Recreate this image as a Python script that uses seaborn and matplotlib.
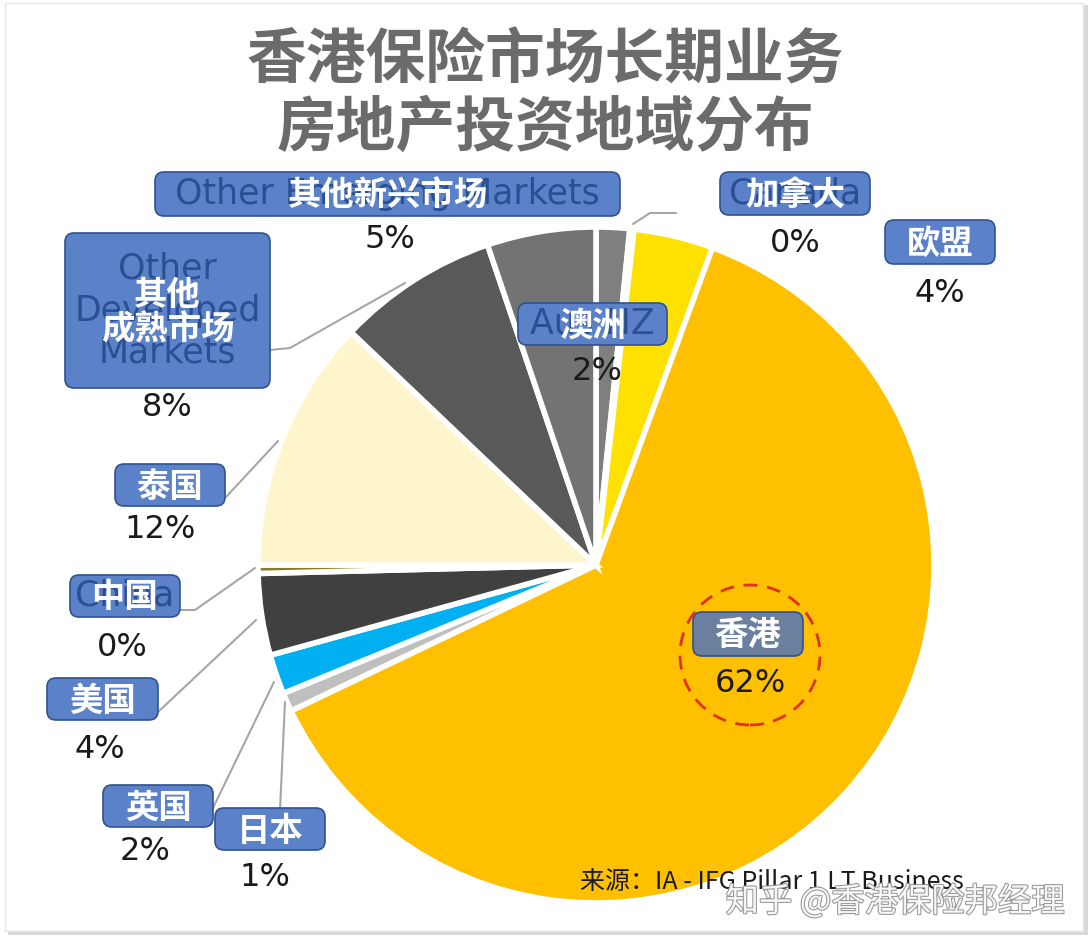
import matplotlib
matplotlib.use("Agg")
import matplotlib.pyplot as plt
import matplotlib.patheffects as pe
from matplotlib.patches import FancyBboxPatch, Circle, Rectangle
import seaborn as sns

# ---------------- data ----------------
regions_cn = ["澳洲", "加拿大", "欧盟", "香港", "日本", "英国", "美国",
              "中国", "泰国", "其他\n成熟市场", "其他新兴市场"]
regions_en = ["Aus NZ", "Canada", "", "", "", "", "",
              "China", "", "Other\nDeveloped\nMarkets", "Other Emerging Markets"]
shares = [1.6, 0.2, 3.8, 62.3, 0.9, 1.9, 3.9, 0.4, 12.1, 7.7, 5.2]
slice_colors = ["#7f7f7f", "#a6a6a6", "#ffe100", "#ffc000", "#bfbfbf", "#00b0f0",
                "#404040", "#8c7a22", "#fff5cc", "#595959", "#737373"]

title_lines = ["香港保险市场长期业务", "房地产投资地域分布"]
source = "来源：IA - IFG Pillar 1 LT Business"
watermark = "知乎 @香港保险邦经理"

# ---------------- layout (pixels, y from top) ----------------
W, H = 1092, 943
# label box (x0, y0, x1, y1), percent text (x, y), leader line points
boxes = [(518, 303, 667, 345), (720, 172, 870, 215), (885, 220, 995, 264),
         (693, 612, 803, 656), (215, 808, 325, 850), (103, 785, 213, 827),
         (47, 678, 158, 720), (70, 575, 180, 617), (115, 464, 225, 506),
         (65, 233, 270, 388), (155, 172, 620, 216)]
pct_pos = [(597, 371), (795, 243), (940, 293), (750, 684), (265, 878),
           (145, 852), (100, 750), (122, 648), (160, 530), (167, 408), (390, 240)]
leaders = [None, [(633, 224), (650, 213), (676, 213)], None, None,
           [(280, 810), (285, 702)], [(213, 808), (274, 682)],
           [(158, 712), (256, 620)], [(180, 610), (195, 610), (255, 568)],
           [(226, 497), (278, 441)], [(270, 350), (290, 348), (405, 283)], None]


def P(x, y):
    return x, H - y


sns.set_theme(style="white")
plt.rcParams["font.family"] = ["Noto Sans CJK SC", "DejaVu Sans"]

fig = plt.figure(figsize=(W / 100, H / 100), dpi=100)
ax = fig.add_axes([0, 0, 1, 1])

# outer frame with soft shadow
ax.add_patch(Rectangle(P(8, 935), 1080, 930, facecolor="#d9d9d9", edgecolor="none", zorder=0))
ax.add_patch(Rectangle(P(5, 931), 1078, 928, facecolor="white", edgecolor="#e6e6e6", lw=1, zorder=0.5))

ax.pie(shares, colors=slice_colors, startangle=90, counterclock=False,
       center=P(596, 565), radius=338,
       wedgeprops=dict(edgecolor="white", linewidth=4), frame=True)

ax.set_xlim(0, W)
ax.set_ylim(0, H)
ax.set_aspect("equal")
ax.axis("off")

# title
ax.text(*P(545, 62), title_lines[0], ha="center", va="center", fontsize=43,
        fontweight="bold", color="#6b6b6b")
ax.text(*P(545, 129), title_lines[1], ha="center", va="center", fontsize=43,
        fontweight="bold", color="#6b6b6b")

for i in range(len(shares)):
    x0, y0, x1, y1 = boxes[i]
    if leaders[i]:
        xs = [p[0] for p in leaders[i]]
        ys = [H - p[1] for p in leaders[i]]
        ax.plot(xs, ys, color="#a6a6a6", lw=1.5, zorder=3)
    face = "#6b7f9f" if regions_cn[i] == "香港" else "#5b82c8"
    ax.add_patch(FancyBboxPatch(P(x0, y1), x1 - x0, y1 - y0,
                                boxstyle="round,pad=0,rounding_size=9",
                                facecolor=face, edgecolor="#2f528f", lw=1.2, zorder=4))
    cx, cy = (x0 + x1) / 2, (y0 + y1) / 2
    if regions_en[i]:
        ax.text(*P(cx, cy), regions_en[i], ha="center", va="center", fontsize=25,
                family="DejaVu Sans", color="#2a4f92", linespacing=1.3, zorder=5)
    ax.text(*P(cx, cy + 2), regions_cn[i], ha="center", va="center", fontsize=24,
            fontweight="bold", color="white", linespacing=1.05, zorder=6)
    ax.text(*P(*pct_pos[i]), f"{shares[i]:.0f}%", ha="center", va="center",
            fontsize=23, family="DejaVu Sans", color="#1a1a1a", zorder=6)

# dashed highlight around Hong Kong
ax.add_patch(Circle(P(750, 655), 70, fill=False, edgecolor="#e0301e", lw=2,
                    linestyle=(0, (5, 3.5)), zorder=5))

ax.text(*P(580, 882), source, ha="left", va="center", fontsize=18, color="#1a1a1a", zorder=6)
ax.text(*P(1065, 902), watermark, ha="right", va="center", fontsize=24, color="white",
        alpha=0.9, zorder=7,
        path_effects=[pe.withStroke(linewidth=1.5, foreground="#8c8c8c")])

fig.savefig("out.png", dpi=100)
